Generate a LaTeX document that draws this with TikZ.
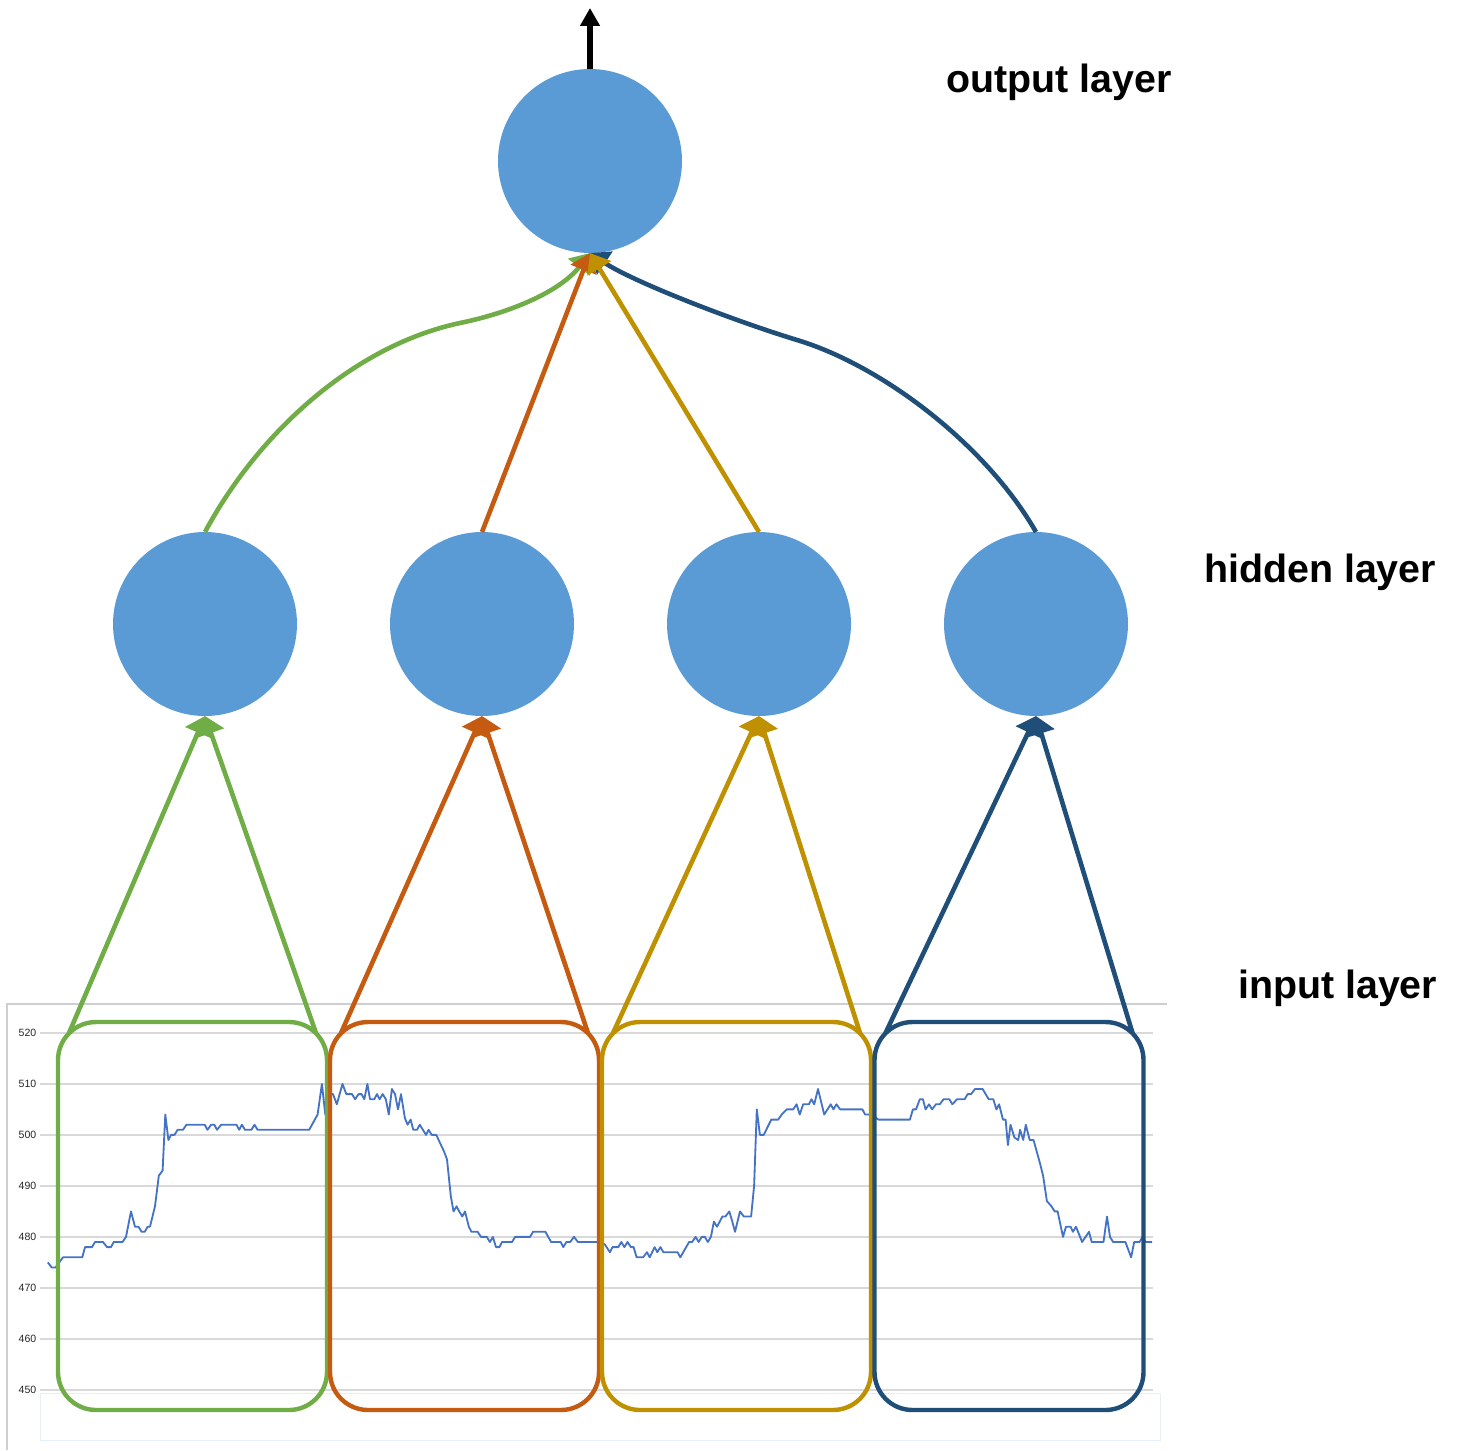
\documentclass[tikz,border=0pt]{standalone}
\usepackage{fontspec}
\setmainfont{Liberation Sans}
\usetikzlibrary{arrows.meta,calc}
\definecolor{nodeblue}{HTML}{5B9BD5}
\definecolor{cgreen}{HTML}{70AD47}
\definecolor{corange}{HTML}{C55A11}
\definecolor{cgold}{HTML}{BF9000}
\definecolor{cnavy}{HTML}{1F4E79}
\definecolor{csignal}{HTML}{4472C4}
\definecolor{cgrid}{HTML}{D9D9D9}
\definecolor{cframe}{HTML}{CFCFCF}
\definecolor{cfaint}{HTML}{E6EEF7}
\begin{document}
\begin{tikzpicture}[x=0.05cm,y=-0.05cm,
 neuron/.style={circle,fill=nodeblue,minimum size=9.2cm,inner sep=0pt,outer sep=0pt},
 window/.style={draw,rounded corners=1.9cm,minimum width=13.45cm,minimum height=19.4cm,inner sep=0pt,outer sep=0pt,line width=0.22cm},
 conn/.style={line width=0.23cm,-{Triangle[width=1.35cm,length=0.9cm]}},
 layerlabel/.style={anchor=base west,font=\fontsize{56}{60}\selectfont\bfseries,inner sep=0pt},
 ticklabel/.style={font=\fontsize{15}{16}\selectfont,text=black!85,inner sep=0pt},
 gridline/.style={cgrid,line width=2pt}]
\useasboundingbox (0,0) rectangle (1460,1450);
% chart frame
\draw[cframe,line width=1.5pt] (7,1450) -- (7,1004) -- (1167,1004);
\draw[cfaint,line width=1pt] (40,1393) rectangle (1160,1440);
\foreach \v/\yy in {520/1033,510/1084,500/1135,490/1186,480/1237,470/1288,460/1339,450/1390}{
  \draw[gridline] (40,\yy) -- (1153,\yy);
  \node[ticklabel] (tick\v) at (27.5,\yy) {\v};
}
% signal
\begin{scope}[x=0.05cm,y=0.255cm,yshift=-184.25cm]
\draw[csignal,line width=2.6pt,line join=round] plot coordinates {
(47.8,475) (51.7,474) (55.5,474) (59.3,475) (63,476) (82.3,476) (85,478) (92,478) (95,479) (103,479) (107,478) (111,478) (113.7,479) (122.5,479) (126,480) (131,485) (135,482) (138.5,482) (141.6,481) (144.7,481) (147.7,482) (150,482) (155,486) (158.8,492) (162.6,493) (165.3,504) (168.4,499) (171,500) (174.5,500) (177.6,501) (183,501) (186.4,502) (204.7,502) (207.4,501) (211.2,502) (214.3,502) (217,501) (221.2,502) (236.5,502) (239.2,501) (241.9,502) (245,501) (251.4,501) (254.5,502) (257.6,501) (309.2,501) (317.6,504) (321.9,510) (325.3,504) (329.5,508) (333,508) (336.8,506) (342.5,510) (346.3,508) (352,508) (355.1,507) (358.6,508) (361.6,508) (364.3,507) (367.4,510) (370,507) (374.3,507) (377,508) (379.6,507) (382.7,508) (385.8,507) (388.8,504) (391.9,509) (395,508) (398,505) (401,508) (404.9,503.3) (407.6,502) (410.6,503) (413.3,501) (417.1,501) (419.8,502) (422.9,501) (426,500) (428.6,501) (431.7,500) (436.3,500) (440.1,498.4) (443.9,496.8) (447,495.2) (450.8,488) (453.5,485) (456.6,486) (459.2,485) (462.3,484) (465,485) (468.8,482) (471.5,481) (477.6,481) (481,480) (486.8,480) (489.9,479) (492.9,480) (496,478) (499.4,478) (502.1,479) (512,479) (515.1,480) (530,480) (533.1,481) (545.4,481) (551.1,479) (560.7,479) (563.3,478) (566.4,479) (570.2,479) (574,480) (577.9,479) (601,479)
(604.9,478.5) (609.9,477) (612.5,478) (618.3,478) (621.3,479) (624.4,478) (627.5,479) (630.9,478) (633.6,478) (636.6,476) (643.1,476) (647,477) (649.7,476) (654.6,478) (657.3,477) (660.4,478) (663.4,477) (677.6,477) (680.3,476) (689.1,479) (692.1,479) (695.6,480) (698.6,479) (701.7,480) (704.8,480) (707.8,479) (710.9,480) (713.9,483) (717,482) (722.4,484) (725.4,484) (729.3,485) (732.3,483) (735,481) (740,485) (743.8,484) (751.1,484) (754.1,490) (756.8,505) (759.9,500) (763.7,500) (771.3,503) (778.2,503) (781.7,504) (786.7,505) (793.2,505) (796.6,506) (799.7,504) (803.1,506) (808.9,506) (811.5,507) (814.2,506) (818,509) (824.2,504) (830.7,506) (833.4,505) (836.4,506) (840.2,505) (862.4,505) (865.1,504) (870.9,504) (878.5,503) (909.9,503) (912.9,505) (916,505) (919.8,507) (922.9,507) (925.6,505) (929,506) (932.1,505) (935.9,506) (939.7,506) (943.6,507) (949.3,507) (952.4,506) (957,507) (964.6,507) (967.7,508) (971.1,508) (975,509) (982.6,509) (988.7,507) (993.3,507) (996.4,505) (999.1,506) (1002.9,503) (1005.6,503) (1007.9,498) (1010.5,502) (1014.4,499.5) (1018.2,499) (1020.1,501) (1023.2,499) (1025.8,502) (1029.7,499) (1033.5,499) (1039.2,495) (1043.1,492) (1046.9,487) (1051.5,486) (1054.6,485) (1057.6,485) (1063,480) (1066,482) (1070.6,482) (1072.9,481) (1076,482) (1082.1,479) (1089,481) (1091.7,479) (1103.5,479) (1107,484) (1110,480) (1113.1,479) (1125.4,479) (1131.1,476) (1134.2,479) (1139.5,479) (1142.6,480) (1145.6,479) (1152.1,479)};
\end{scope}
% windows
\node[window,draw=cgreen] (w1) at (192.5,1216) {};
\node[window,draw=corange] (w2) at (464.5,1216) {};
\node[window,draw=cgold] (w3) at (736.5,1216) {};
\node[window,draw=cnavy] (w4) at (1009,1216) {};
% neurons
\node[neuron] (out) at (590,161) {};
\node[neuron] (h1) at (205,624) {};
\node[neuron] (h2) at (482,624) {};
\node[neuron] (h3) at (759,624) {};
\node[neuron] (h4) at (1036,624) {};
% input connections
\foreach \i/\c in {1/cgreen,2/corange,3/cgold,4/cnavy}{
  \draw[conn,\c] ($(w\i.north west)+(11,11)$) -- (h\i.south);
  \draw[conn,\c] ($(w\i.north east)+(-11,11)$) -- (h\i.south);
}
% hidden to output
\draw[conn,cgreen] (h1.north) .. controls (257,435) and (352,346) .. (460,323) .. controls (509,313) and (560,292) .. (out.south);
\draw[conn,cnavy] (h4.north) .. controls (986,445) and (883,366) .. (797,340) .. controls (730,319.5) and (631.5,281) .. (out.south);
\draw[conn,corange] (h2.north) -- (out.south);
\draw[conn,cgold] (h3.north) -- (out.south);
% output
\coordinate (top) at (590,8);
\draw[line width=0.26cm,-{Triangle[width=0.95cm,length=0.9cm]}] (out.north) -- (top);
% labels
\node[layerlabel] (lo) at (946,92) {output layer};
\node[layerlabel] (lh) at (1204,582) {hidden layer};
\node[layerlabel] (li) at (1238,998) {input layer};
\end{tikzpicture}
\end{document}
